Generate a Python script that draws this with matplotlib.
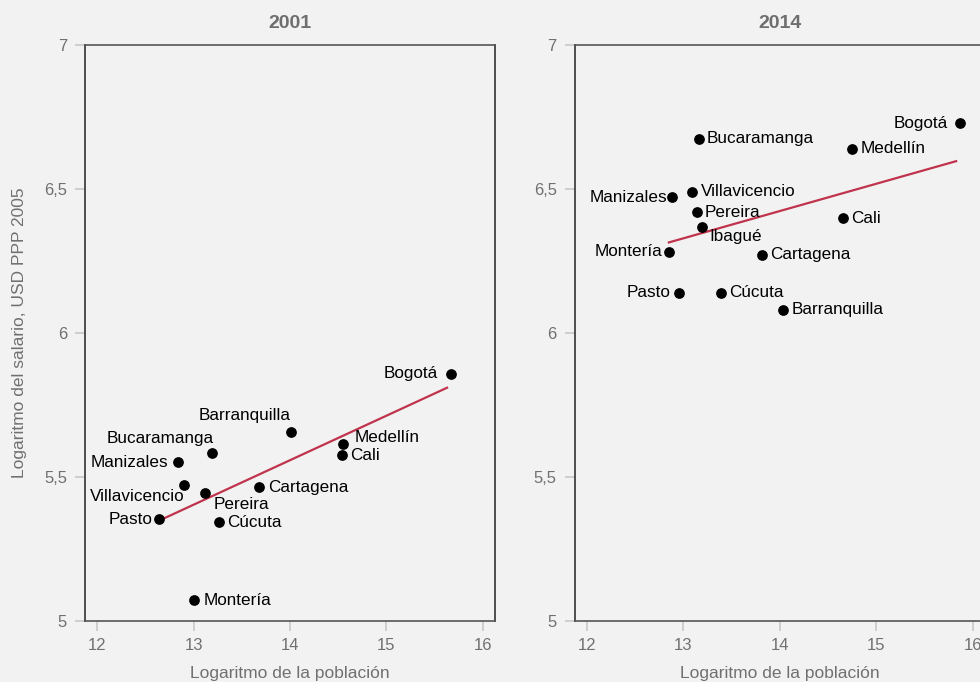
import numpy as np
import matplotlib
matplotlib.use("Agg")
import matplotlib.pyplot as plt
from matplotlib.ticker import FuncFormatter

plt.rcParams['font.family'] = ['Liberation Sans', 'DejaVu Sans']

# ---- data ----
cities_2001 = ["Bogotá", "Barranquilla", "Bucaramanga", "Manizales", "Villavicencio",
               "Pereira", "Pasto", "Cúcuta", "Cartagena", "Medellín", "Cali", "Montería"]
pop_2001 = [15.668, 14.01, 13.19, 12.843, 12.905, 13.122, 12.639, 13.268, 13.679, 14.549, 14.536, 13.008]
wage_2001 = [5.858, 5.657, 5.584, 5.551, 5.473, 5.444, 5.354, 5.343, 5.464, 5.616, 5.575, 5.072]

cities_2014 = ["Bogotá", "Bucaramanga", "Medellín", "Villavicencio", "Manizales", "Pereira",
               "Ibagué", "Cali", "Montería", "Cartagena", "Pasto", "Cúcuta", "Barranquilla"]
pop_2014 = [15.869, 13.162, 14.746, 13.096, 12.882, 13.138, 13.196, 14.659, 12.851, 13.815, 12.961, 13.387, 14.033]
wage_2014 = [6.728, 6.675, 6.640, 6.491, 6.471, 6.420, 6.369, 6.399, 6.282, 6.271, 6.139, 6.139, 6.081]

years = ["2001", "2014"]
x_ticks = [12, 13, 14, 15, 16]
y_ticks = [5, 5.5, 6, 6.5, 7]

# ---- label layout (pixel offsets, alignment) ----
layout_2001 = {
    "Bogotá": (-13, 0, "right"), "Barranquilla": (0, 16, "right"), "Bucaramanga": (2, 14, "right"),
    "Manizales": (-10, 0, "right"), "Villavicencio": (0, -12, "right"), "Pereira": (8, -11, "left"),
    "Pasto": (-6, 0, "right"), "Cúcuta": (8, 0, "left"), "Cartagena": (9, 0, "left"),
    "Medellín": (12, 6, "left"), "Cali": (8, 0, "left"), "Montería": (9, 0, "left"),
}
layout_2014 = {
    "Bogotá": (-12, 0, "right"), "Bucaramanga": (8, 0, "left"), "Medellín": (9, 0, "left"),
    "Villavicencio": (8, 0, "left"), "Manizales": (-5, 0, "right"), "Pereira": (8, 0, "left"),
    "Ibagué": (7, -10, "left"), "Cali": (8, 0, "left"), "Montería": (-6, 0, "right"),
    "Cartagena": (8, 0, "left"), "Pasto": (-9, 0, "right"), "Cúcuta": (9, 0, "left"),
    "Barranquilla": (9, 0, "left"),
}

BG = "#f2f2f2"
GRAY = "#707070"
LINE = "#c0334d"

fig = plt.figure(figsize=(9.8, 6.82), dpi=100, facecolor=BG)
W, H = 980, 682
ax_w = 410 / W
ax_h = 576 / H
axes = [fig.add_axes([85 / W, 61 / H, ax_w, ax_h]),
        fig.add_axes([574.7 / W, 61 / H, ax_w, ax_h])]

fmt = FuncFormatter(lambda v, p: (f"{v:g}").replace(".", ","))

datasets = [(cities_2001, pop_2001, wage_2001, layout_2001),
            (cities_2014, pop_2014, wage_2014, layout_2014)]

for ax, year, (cities, xs, ys, lay) in zip(axes, years, datasets):
    ax.set_facecolor(BG)
    ax.set_xlim(11.875, 16.125)
    ax.set_ylim(5, 7)
    ax.set_xticks(x_ticks)
    ax.set_yticks(y_ticks)
    ax.yaxis.set_major_formatter(fmt)
    ax.tick_params(axis='both', colors="#c8c8c8", labelcolor=GRAY, labelsize=12,
                   length=7, width=1.2, direction='out')
    ax.tick_params(axis='x', pad=5)
    ax.tick_params(axis='y', pad=6)
    for s in ax.spines.values():
        s.set_color("#333333")
        s.set_linewidth(1.2)
    ax.spines['bottom'].set_color("#555555")
    ax.spines['top'].set_color("#555555")

    xa = np.array(xs)
    ya = np.array(ys)
    m, b = np.polyfit(xa, ya, 1)
    xx = np.array([xa.min(), xa.max() - 0.04])
    ax.plot(xx, m * xx + b, color=LINE, lw=1.6, zorder=2, clip_on=False)
    ax.scatter(xa, ya, s=45, color="black", zorder=3, clip_on=False)
    for c, x, y in zip(cities, xs, ys):
        dx, dy, ha = lay[c]
        ax.annotate(c, (x, y), xytext=(dx, dy), textcoords='offset pixels',
                    ha=ha, va='center', fontsize=12.3, color="black", zorder=4)
    ax.set_title(year, fontsize=14, fontweight='bold', color="#6e6e6e", pad=12)
    ax.set_xlabel("Logaritmo de la población", fontsize=12.5, color=GRAY, labelpad=9.5)

axes[0].set_ylabel("Logaritmo del salario, USD PPP 2005", fontsize=12.5, color=GRAY, labelpad=12)

fig.savefig("out.png", dpi=100, facecolor=BG)
